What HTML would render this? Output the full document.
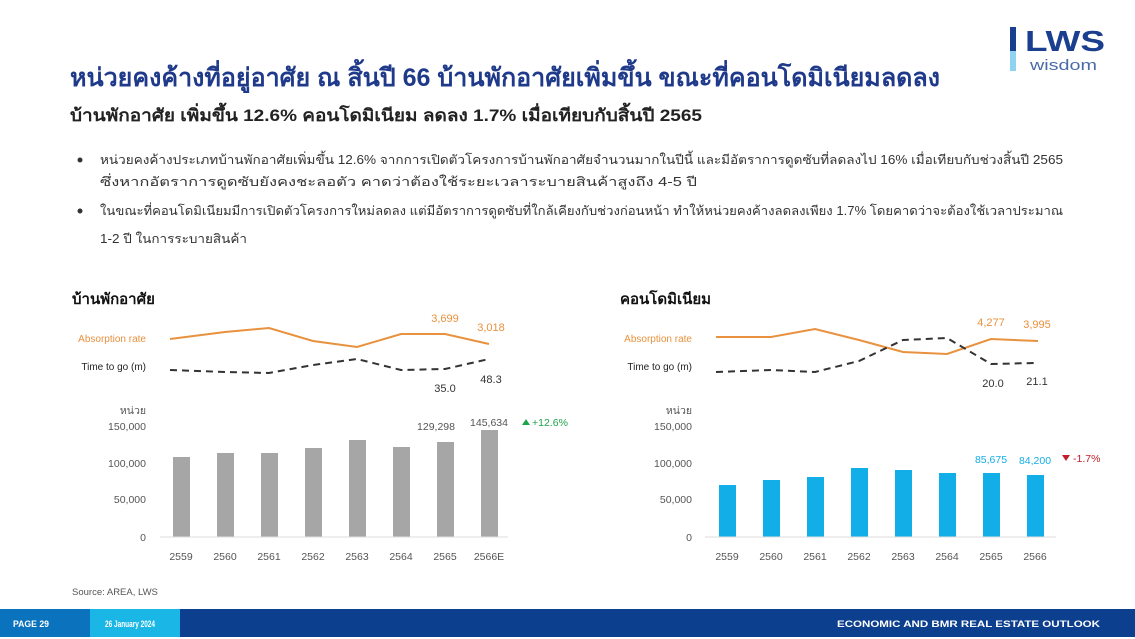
<!DOCTYPE html>
<html><head><meta charset="utf-8"><style>
body{margin:0;background:#fff;}
svg{display:block;font-family:"Liberation Sans",sans-serif;}
</style></head><body>
<svg width="1135" height="639" viewBox="0 0 1135 639" xmlns="http://www.w3.org/2000/svg">
<rect width="1135" height="639" fill="#fff"/>
<!-- logo -->
<rect x="1010" y="27" width="6" height="24" fill="#1a3f8f"/>
<rect x="1010" y="51" width="6" height="20" fill="#8fd3f0"/>
<text x="1025" y="51" font-size="29" font-weight="bold" fill="#1a3f8f" textLength="80" lengthAdjust="spacingAndGlyphs">LWS</text>
<text x="1030" y="70" font-size="15" fill="#4a6aa8" textLength="67" lengthAdjust="spacingAndGlyphs">wisdom</text>
<!-- title -->
<text x="70" y="86" font-size="25" font-weight="bold" fill="#1f3a8a" textLength="870" lengthAdjust="spacingAndGlyphs">หน่วยคงค้างที่อยู่อาศัย ณ สิ้นปี 66 บ้านพักอาศัยเพิ่มขึ้น ขณะที่คอนโดมิเนียมลดลง</text>
<text x="70" y="121" font-size="17" font-weight="bold" fill="#222" textLength="632" lengthAdjust="spacingAndGlyphs">บ้านพักอาศัย เพิ่มขึ้น 12.6% คอนโดมิเนียม ลดลง 1.7% เมื่อเทียบกับสิ้นปี 2565</text>
<g font-size="12.5" fill="#333">
<circle cx="80" cy="160" r="2.5" fill="#333"/>
<text x="100" y="164" textLength="963" lengthAdjust="spacingAndGlyphs">หน่วยคงค้างประเภทบ้านพักอาศัยเพิ่มขึ้น 12.6%  จากการเปิดตัวโครงการบ้านพักอาศัยจำนวนมากในปีนี้ และมีอัตราการดูดซับที่ลดลงไป 16% เมื่อเทียบกับช่วงสิ้นปี 2565</text>
<text x="100" y="186" textLength="597" lengthAdjust="spacingAndGlyphs">ซึ่งหากอัตราการดูดซับยังคงชะลอตัว คาดว่าต้องใช้ระยะเวลาระบายสินค้าสูงถึง 4-5 ปี</text>
<circle cx="80" cy="211" r="2.5" fill="#333"/>
<text x="100" y="215" textLength="963" lengthAdjust="spacingAndGlyphs">ในขณะที่คอนโดมิเนียมมีการเปิดตัวโครงการใหม่ลดลง แต่มีอัตราการดูดซับที่ใกล้เคียงกับช่วงก่อนหน้า ทำให้หน่วยคงค้างลดลงเพียง 1.7% โดยคาดว่าจะต้องใช้เวลาประมาณ</text>
<text x="100" y="243" textLength="147" lengthAdjust="spacingAndGlyphs">1-2 ปี ในการระบายสินค้า</text>
</g>
<!-- left chart -->
<text x="72" y="304" font-size="15" font-weight="bold" fill="#111">บ้านพักอาศัย</text>
<g font-size="10" text-anchor="end">
<text x="146" y="342" fill="#e8913e">Absorption rate</text>
<text x="146" y="370" fill="#222">Time to go (m)</text>
</g>
<polyline points="170,339 225,332 269,328 313,341 357,347 401,334 445,334 489,344" fill="none" stroke="#e8913e" stroke-width="2"/>
<polyline points="170,370 225,372 269,373 313,365 357,359 401,370 445,369 489,359" fill="none" stroke="#333" stroke-width="2" stroke-dasharray="7,5"/>
<g font-size="11" text-anchor="middle">
<text x="445" y="322" fill="#e8913e">3,699</text>
<text x="491" y="331" fill="#e8913e">3,018</text>
<text x="445" y="392" fill="#333">35.0</text>
<text x="491" y="383" fill="#333">48.3</text>
</g>
<g font-size="10.5" fill="#555" text-anchor="end">
<text x="146" y="414">หน่วย</text>
<text x="146" y="430">150,000</text>
<text x="146" y="467">100,000</text>
<text x="146" y="503">50,000</text>
<text x="146" y="541">0</text>
</g>
<g fill="#a6a6a6">
<rect x="173" y="457" width="17" height="80"/>
<rect x="217" y="453" width="17" height="84"/>
<rect x="261" y="453" width="17" height="84"/>
<rect x="305" y="448" width="17" height="89"/>
<rect x="349" y="440" width="17" height="97"/>
<rect x="393" y="447" width="17" height="90"/>
<rect x="437" y="442" width="17" height="95"/>
<rect x="481" y="430" width="17" height="107"/>
</g>
<line x1="160" y1="537" x2="508" y2="537" stroke="#ddd" stroke-width="1"/>
<g font-size="10.5" fill="#555" text-anchor="middle">
<text x="181" y="560">2559</text><text x="225" y="560">2560</text><text x="269" y="560">2561</text><text x="313" y="560">2562</text><text x="357" y="560">2563</text><text x="401" y="560">2564</text><text x="445" y="560">2565</text><text x="489" y="560">2566E</text>
<text x="436" y="430">129,298</text><text x="489" y="426">145,634</text>
</g>
<polygon points="522,425 530,425 526,419" fill="#1fa34a"/>
<text x="532" y="426" font-size="10.5" fill="#1fa34a">+12.6%</text>
<!-- right chart -->
<text x="620" y="304" font-size="15" font-weight="bold" fill="#111">คอนโดมิเนียม</text>
<g font-size="10" text-anchor="end">
<text x="692" y="342" fill="#e8913e">Absorption rate</text>
<text x="692" y="370" fill="#222">Time to go (m)</text>
</g>
<polyline points="716,337 771,337 815,329 859,340 903,352 947,354 991,339 1038,341" fill="none" stroke="#e8913e" stroke-width="2"/>
<polyline points="716,372 771,370 815,372 859,361 903,340 947,338 991,364 1035,363" fill="none" stroke="#333" stroke-width="2" stroke-dasharray="7,5"/>
<g font-size="11" text-anchor="middle">
<text x="991" y="326" fill="#e8913e">4,277</text>
<text x="1037" y="328" fill="#e8913e">3,995</text>
<text x="993" y="387" fill="#333">20.0</text>
<text x="1037" y="385" fill="#333">21.1</text>
</g>
<g font-size="10.5" fill="#555" text-anchor="end">
<text x="692" y="414">หน่วย</text>
<text x="692" y="430">150,000</text>
<text x="692" y="467">100,000</text>
<text x="692" y="503">50,000</text>
<text x="692" y="541">0</text>
</g>
<g fill="#12aee8">
<rect x="719" y="485" width="17" height="52"/>
<rect x="763" y="480" width="17" height="57"/>
<rect x="807" y="477" width="17" height="60"/>
<rect x="851" y="468" width="17" height="69"/>
<rect x="895" y="470" width="17" height="67"/>
<rect x="939" y="473" width="17" height="64"/>
<rect x="983" y="473" width="17" height="64"/>
<rect x="1027" y="475" width="17" height="62"/>
</g>
<line x1="705" y1="537" x2="1056" y2="537" stroke="#ddd" stroke-width="1"/>
<g font-size="10.5" fill="#555" text-anchor="middle">
<text x="727" y="560">2559</text><text x="771" y="560">2560</text><text x="815" y="560">2561</text><text x="859" y="560">2562</text><text x="903" y="560">2563</text><text x="947" y="560">2564</text><text x="991" y="560">2565</text><text x="1035" y="560">2566</text>
</g>
<g font-size="10.5" fill="#12aee8" text-anchor="middle">
<text x="991" y="463">85,675</text><text x="1035" y="464">84,200</text>
</g>
<polygon points="1062,455 1070,455 1066,461" fill="#c0202a"/>
<text x="1073" y="462" font-size="10.5" fill="#c0202a">-1.7%</text>
<text x="72" y="595" font-size="9.5" fill="#555">Source: AREA, LWS</text>
<!-- footer -->
<rect x="0" y="609" width="90" height="28" fill="#0b72bd"/>
<rect x="90" y="609" width="90" height="28" fill="#19b6e6"/>
<rect x="180" y="609" width="955" height="28" fill="#0d3f8f"/>
<g font-size="9" fill="#fff" font-weight="bold">
<text x="13" y="627" textLength="36" lengthAdjust="spacingAndGlyphs">PAGE 29</text>
<text x="105" y="627" textLength="50" lengthAdjust="spacingAndGlyphs">26 January 2024</text>
<text x="837" y="627" textLength="263" lengthAdjust="spacingAndGlyphs">ECONOMIC AND BMR REAL ESTATE OUTLOOK</text>
</g>
</svg>
</body></html>
